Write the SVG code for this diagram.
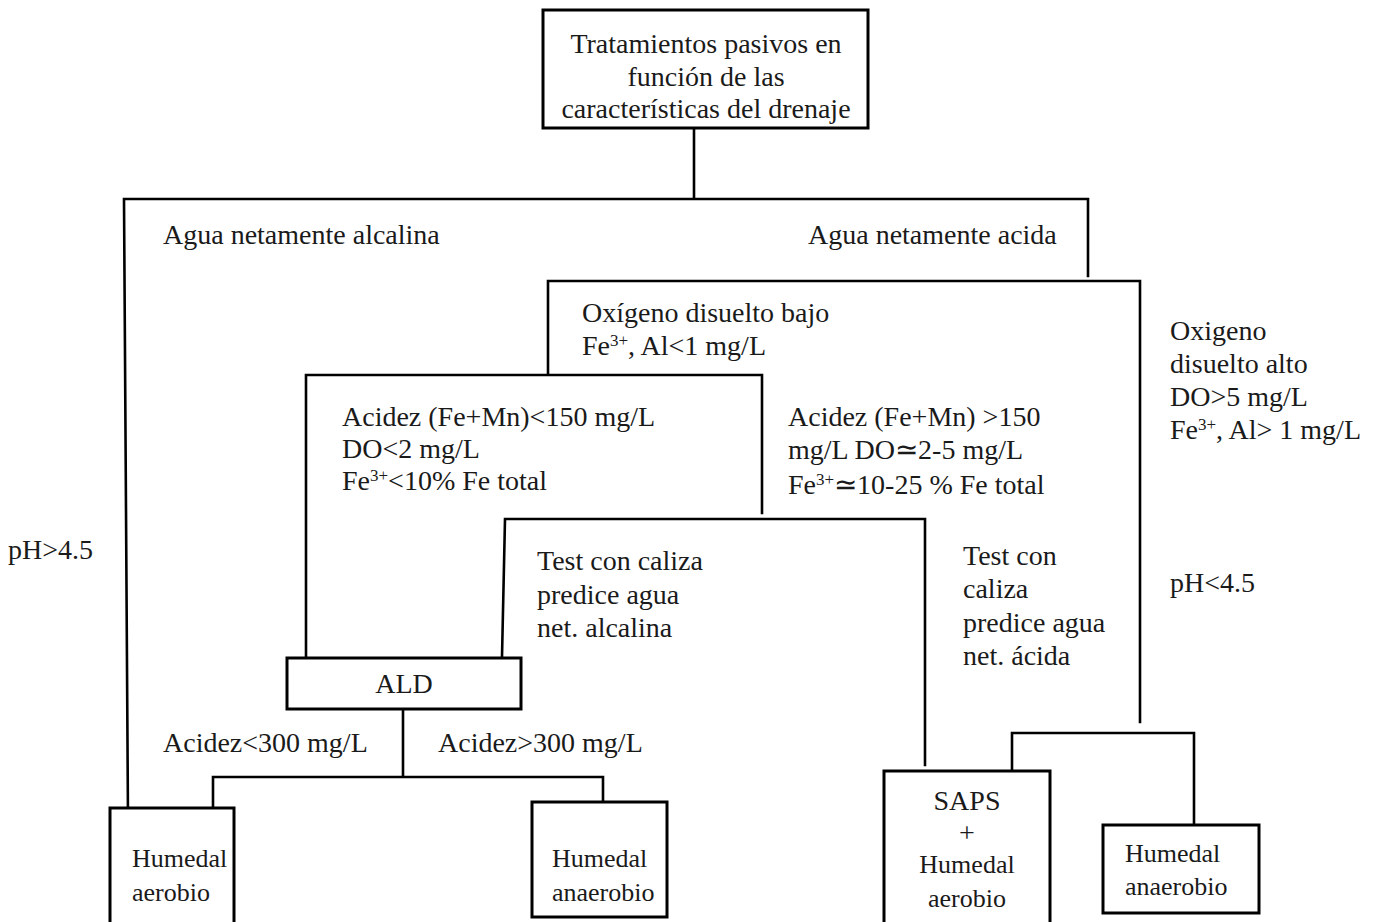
<svg xmlns="http://www.w3.org/2000/svg" width="1396" height="922" viewBox="0 0 1396 922">
<style>
text{font-family:"Liberation Serif","Times New Roman",serif;font-size:28px;fill:#1a1a1a}
.c{text-anchor:middle}
.b{font-size:26px}
.box{fill:#fff;stroke:#000;stroke-width:3}
.ln{fill:none;stroke:#000;stroke-width:2.6;stroke-linecap:square}
.sup{font-size:17px}
</style>
<rect x="0" y="0" width="1396" height="922" fill="#fff"/>
<g id="connectors">
<path class="ln" d="M694,128 V199 M124,199 H1088 V276 M124,199 L128,820"/>
<path class="ln" d="M548,374 V281 H1140 V722"/>
<path class="ln" d="M306,657 V375 H762 V513"/>
<path class="ln" d="M502,657 L505,519 H925 V765"/>
<path class="ln" d="M403,709 V777 M213,808 V777 H603 V802"/>
<path class="ln" d="M1012,771 V733 H1194 V825"/>
</g>
<g id="labels">
<text x="163" y="244">Agua netamente alcalina</text>
<text x="808" y="244">Agua netamente acida</text>
<text x="582" y="322">Oxígeno disuelto bajo</text>
<text x="582" y="355">Fe<tspan class="sup" dy="-9">3+</tspan><tspan dy="9">, Al&lt;1 mg/L</tspan></text>
<text x="1170" y="340">Oxigeno</text>
<text x="1170" y="373">disuelto alto</text>
<text x="1170" y="406">DO&gt;5 mg/L</text>
<text x="1170" y="439">Fe<tspan class="sup" dy="-9">3+</tspan><tspan dy="9">, Al&gt; 1 mg/L</tspan></text>
<text x="342" y="426">Acidez (Fe+Mn)&lt;150 mg/L</text>
<text x="342" y="458">DO&lt;2 mg/L</text>
<text x="342" y="490">Fe<tspan class="sup" dy="-9">3+</tspan><tspan dy="9">&lt;10% Fe total</tspan></text>
<text x="788" y="426">Acidez (Fe+Mn) &gt;150</text>
<text x="788" y="459">mg/L DO≃2-5 mg/L</text>
<text x="788" y="494">Fe<tspan class="sup" dy="-9">3+</tspan><tspan dy="9">≃10-25 % Fe total</tspan></text>
<text x="8" y="559">pH&gt;4.5</text>
<text x="1170" y="592">pH&lt;4.5</text>
<text x="537" y="570">Test con caliza</text>
<text x="537" y="604">predice agua</text>
<text x="537" y="637">net. alcalina</text>
<text x="963" y="565">Test con</text>
<text x="963" y="598">caliza</text>
<text x="963" y="632">predice agua</text>
<text x="963" y="665">net. ácida</text>
<text x="163" y="752">Acidez&lt;300 mg/L</text>
<text x="438" y="752">Acidez&gt;300 mg/L</text>
</g>
<g id="node-top">
<rect class="box" x="543" y="10" width="325" height="118"/>
<text class="c" x="706" y="53">Tratamientos pasivos en</text>
<text class="c" x="706" y="86">función de las</text>
<text class="c" x="706" y="118">características del drenaje</text>
</g>
<g id="node-ald">
<rect class="box" x="287" y="658" width="234" height="51"/>
<text class="c" x="404" y="693">ALD</text>
</g>
<g id="node-humedal-aerobio">
<rect class="box" x="110" y="808" width="124" height="120"/>
<text class="b" x="132" y="867">Humedal</text>
<text class="b" x="132" y="901">aerobio</text>
</g>
<g id="node-humedal-anaerobio-1">
<rect class="box" x="532" y="802" width="135" height="115"/>
<text class="b" x="552" y="867">Humedal</text>
<text class="b" x="552" y="901">anaerobio</text>
</g>
<g id="node-saps">
<rect class="box" x="884" y="771" width="166" height="160"/>
<text class="c" x="967" y="810">SAPS</text>
<text class="c" x="967" y="842">+</text>
<text class="b c" x="967" y="873">Humedal</text>
<text class="b c" x="967" y="907">aerobio</text>
</g>
<g id="node-humedal-anaerobio-2">
<rect class="box" x="1103" y="825" width="156" height="88"/>
<text class="b" x="1125" y="862">Humedal</text>
<text class="b" x="1125" y="895">anaerobio</text>
</g>
</svg>
